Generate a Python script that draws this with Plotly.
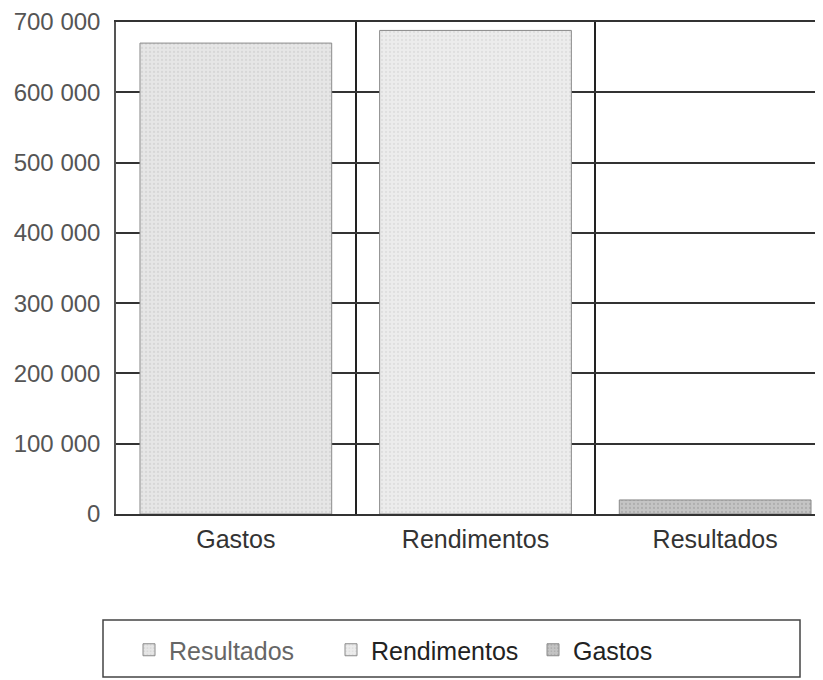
import plotly.graph_objects as go

categories = ["Gastos", "Rendimentos", "Resultados"]
values = [670000, 688000, 20000]
legend_names = ["Resultados", "Rendimentos", "Gastos"]
tick_vals = [0, 100000, 200000, 300000, 400000, 500000, 600000, 700000]

fills = ["#e6e6e6", "#ececec", "#c4c4c4"]
dots = ["#c8c8c8", "#d2d2d2", "#9a9a9a"]
name_colors = ["#666666", "#222222", "#222222"]

# page has an 8px body margin; figure size compensates so the plot sits where the reference has it
OFF = 8
W, H = 823 - OFF, 680 - OFF
L, R, T, B = 116 - OFF, 0, 22 - OFF, 166
pw = W - L - R
ph = H - T - B

def px_x(x):
    return (x - OFF - L) / pw

def px_y(y):
    return (H - B - (y - OFF)) / ph

fig = go.Figure()
for i, cat in enumerate(categories):
    fig.add_trace(go.Bar(
        x=[cat], y=[values[i]],
        name='<span style="color:%s">%s</span>' % (name_colors[i], legend_names[i]),
        width=0.8,
        marker=dict(
            color=fills[i],
            line=dict(color="#8a8a8a", width=1),
            pattern=dict(shape=".", fgcolor=dots[i], bgcolor=fills[i], size=4, solidity=0.25),
        ),
    ))

fig.add_shape(type="rect", xref="paper", yref="paper",
              x0=px_x(103), x1=px_x(800), y0=px_y(677), y1=px_y(620),
              line=dict(color="#444444", width=1.5), fillcolor="rgba(0,0,0,0)")

fig.update_layout(
    width=W, height=H,
    margin=dict(l=L, r=R, t=T, b=B, autoexpand=False),
    paper_bgcolor="white", plot_bgcolor="white",
    separators=", ",
    font=dict(family="Liberation Sans, Arial, sans-serif", size=24, color="#333333"),
    barmode="overlay",
    showlegend=True,
    legend=dict(orientation="h", x=px_x(129), xanchor="left", y=px_y(650), yanchor="middle",
                font=dict(size=25, color="#222222"), bgcolor="rgba(0,0,0,0)",
                entrywidth=157, entrywidthmode="pixels", traceorder="normal"),
    xaxis=dict(
        type="category", categoryorder="array", categoryarray=categories,
        range=[-0.5, 2.45], tickson="boundaries", ticks="", showgrid=True,
        gridcolor="#222222", gridwidth=1.5, automargin=False,
        showline=True, linecolor="#333333", linewidth=2, mirror=True,
        tickfont=dict(size=25, color="#333333"), ticklabelstandoff=2,
    ),
    yaxis=dict(
        range=[0, 700000], tickvals=tick_vals, tickformat=",d", automargin=False,
        ticklabeloverflow="allow",
        showgrid=True, gridcolor="#333333", gridwidth=1.5, zeroline=False,
        showline=True, linecolor="#555555", linewidth=1.5,
        tickfont=dict(size=24, color="#555555"), ticklabelstandoff=9, ticks="",
    ),
)

fig.write_html("out.html")
